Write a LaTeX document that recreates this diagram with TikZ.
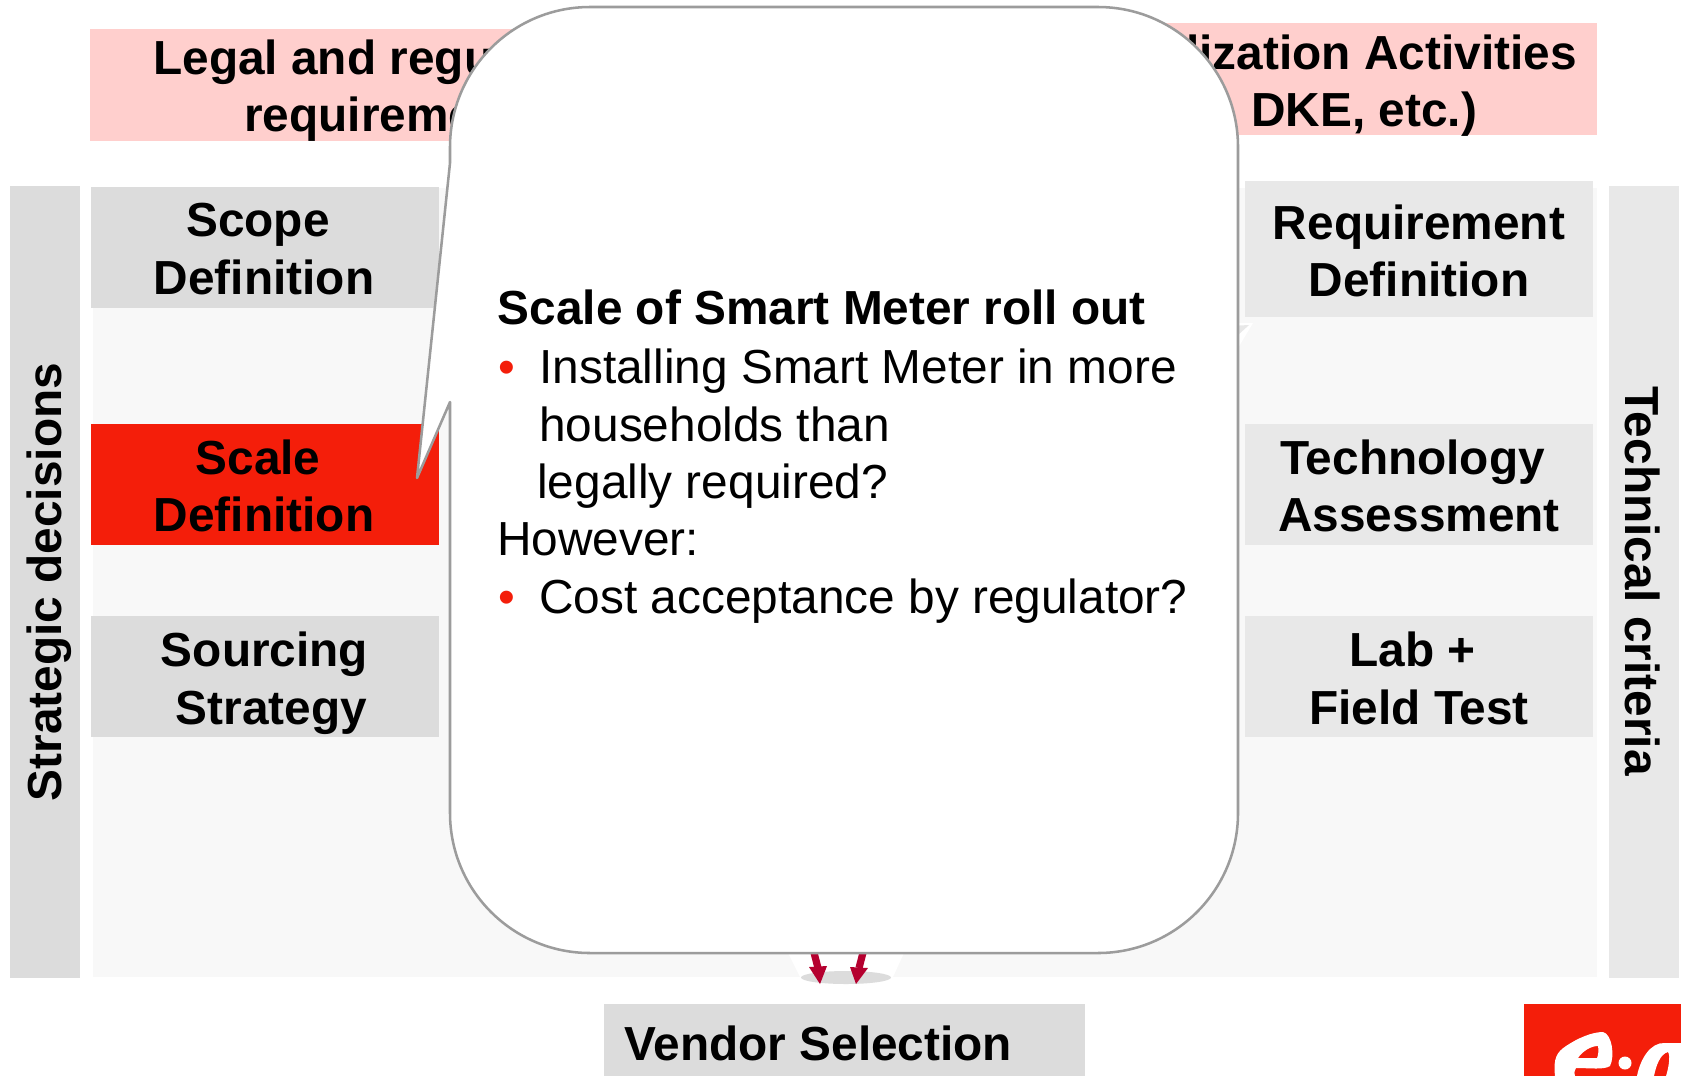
\documentclass[tikz,border=0pt]{standalone}
\usepackage{fontspec}
\setmainfont{Liberation Sans}
\definecolor{panel}{HTML}{F8F8F8}
\definecolor{greyA}{HTML}{DCDCDC}
\definecolor{greyB}{HTML}{E8E8E8}
\definecolor{pinkbox}{HTML}{FFCFCD}
\definecolor{eonred}{HTML}{F41E0A}
\definecolor{arrowred}{HTML}{B5002F}
\definecolor{outline}{HTML}{9C9C9C}
\tikzset{
  box/.style={fill=#1,draw=none},
  lab/.style={font=\fontsize{35.85pt}{42pt}\selectfont\bfseries,text=black,inner sep=0pt,anchor=base},
  labw/.style={lab,anchor=base west},
  labe/.style={lab,anchor=base east},
  body/.style={font=\fontsize{35.85pt}{42pt}\selectfont,text=black,inner sep=0pt,anchor=base west},
  redarrow/.style={draw=arrowred,line width=5.4pt},
  redhead/.style={fill=arrowred,draw=none},
}
\begin{document}
\begin{tikzpicture}[x=0.75pt,y=-0.75pt]
\useasboundingbox (0,0) rectangle (1681,1076);
\fill[white] (0,0) rectangle (1681,1076);
% panel and strips
\fill[panel] (93,188) rectangle (1597,977);
\fill[box=greyA] (10,186) rectangle (80,978);
\fill[box=greyB] (1609,186) rectangle (1679,978);
% pink boxes
\fill[box=pinkbox] (90,29) rectangle (540,141);
\fill[box=pinkbox] (1150,23) rectangle (1597,135);
% left boxes
\fill[box=greyA] (91,187) rectangle (439,308);
\fill[box=eonred] (91,424) rectangle (439,545);
\fill[box=greyA] (91,616) rectangle (439,737);
% right boxes
\fill[box=greyB] (1245,181) rectangle (1593,317);
\fill[box=greyB] (1245,424) rectangle (1593,545);
\fill[box=greyB] (1245,616) rectangle (1593,737);
% vendor box
\fill[box=greyA] (604,1004) rectangle (1085,1076);
% funnel
\fill[white] (788,953) -- (904,953) -- (893,977) -- (800,977) -- cycle;
\fill[greyA] (846,977.5) ellipse [x radius=45,y radius=6.5];
% red arrows
\coordinate (a1s) at (812,945);
\coordinate (a1e) at (818,968);
\coordinate (a2s) at (865,945);
\coordinate (a2e) at (859,968);
\draw[redarrow] (a1s) -- (a1e);
\draw[redarrow] (a2s) -- (a2e);
\fill[redhead] (820,984) -- (809,967) -- (827,966) -- cycle;
\fill[redhead] (856,984) -- (850,967) -- (868,968) -- cycle;
% small wedge behind callout
\fill[white] (1230,323) -- (1253,323) -- (1238,348) -- cycle;
\fill[greyB] (1230,326) -- (1249,325) -- (1238,335) -- cycle;
% labels in boxes
\node[labw] (legal1) at (153,74.5) {Legal and regu};
\node[labw] (legal2) at (244,131.5) {requireme};
\node[labe] (std1) at (1577,69) {lization Activities};
\node[labe] (std2) at (1477.5,126) {DKE, etc.)};
\node[lab] (sc1) at (258,236) {Scope};
\node[lab] (sc2) at (264,294) {Definition};
\node[lab] (sd1) at (258,474) {Scale};
\node[lab] (sd2) at (264,531) {Definition};
\node[lab] (so1) at (264.5,666) {Sourcing};
\node[lab] (so2) at (271.5,724) {Strategy};
\node[lab] (rq1) at (1419,239) {Requirement};
\node[lab] (rq2) at (1419,296) {Definition};
\node[lab] (ta1) at (1412.5,474) {Technology};
\node[lab] (ta2) at (1419,531) {Assessment};
\node[lab] (lf1) at (1412.5,666.5) {Lab +};
\node[lab] (lf2) at (1419,724) {Field Test};
\node[labw] (vendor) at (624,1060) {Vendor Selection};
\node[lab,rotate=90] (strat) at (61.5,582) {Strategic decisions};
\node[lab,rotate=-90] (tech) at (1625,581) {Technical criteria};
% callout
\draw[draw=outline,fill=white,line width=1.9pt,line join=round]
  (450,163) -- (417,478) -- (450,402) -- (450,813)
  .. controls (450,890.3) and (512.7,953) .. (590,953) -- (1098,953)
  .. controls (1175.3,953) and (1238,890.3) .. (1238,813) -- (1238,147)
  .. controls (1238,69.7) and (1175.3,7) .. (1098,7) -- (590,7)
  .. controls (512.7,7) and (450,69.7) .. (450,147) -- cycle;
% callout text
\node[labw] (c0) at (497.5,324.5) {Scale of Smart Meter roll out};
\node[body,text=eonred] (b1) at (498,383) {•};
\node[body] (c1) at (539,383) {Installing Smart Meter in more};
\node[body] (c2) at (539,441) {households than};
\node[body] (c3) at (537,498) {legally required?};
\node[body] (c4) at (497,555) {However:};
\node[body,text=eonred] (b2) at (498,613) {•};
\node[body] (c5) at (539,613) {Cost acceptance by regulator?};
% logo
\begin{scope}
\clip (0,0) rectangle (1681,1076);
\fill[eonred] (1524,1004) rectangle (1681,1076);
\fill[white,even odd rule] (1555,1076) .. controls (1553,1058) and (1557,1052) .. (1566,1046)
  .. controls (1578,1038) and (1592,1032) .. (1603,1032)
  .. controls (1612,1034) and (1615,1056) .. (1610,1066)
  .. controls (1604,1070) and (1590,1068) .. (1576,1068)
  .. controls (1574,1072) and (1574,1074) .. (1575,1076) -- cycle
  (1578,1058) .. controls (1582,1052) and (1590,1046) .. (1598,1046)
  .. controls (1599,1050) and (1598,1056) .. (1597,1058) -- cycle;
\fill[white] (1625,1063) circle [radius=6.5];
\fill[white,even odd rule] (1637,1076) .. controls (1640,1060) and (1650,1042) .. (1665,1043)
  .. controls (1672,1043) and (1681,1043) .. (1681,1043) -- (1681,1076) -- cycle
  (1654,1076) .. controls (1656,1066) and (1660,1054) .. (1668,1052)
  .. controls (1671,1056) and (1668,1070) .. (1666,1076) -- cycle;
\end{scope}
\end{tikzpicture}
\end{document}
